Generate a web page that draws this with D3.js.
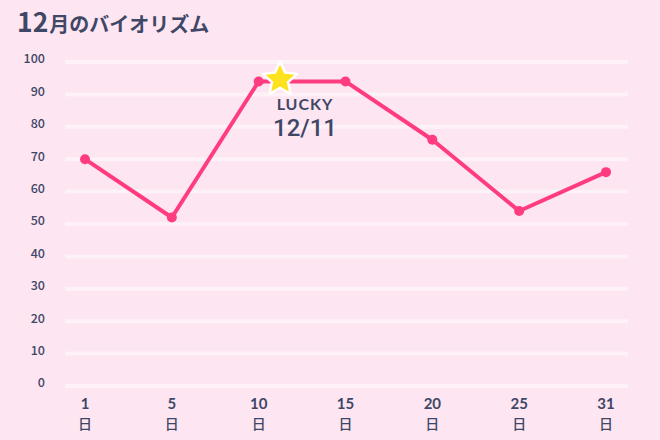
<!DOCTYPE html>
<meta charset="utf-8">
<style type="text/css">
  body { margin: 0; background: #fde5f1; }
  svg { display: block; font-family: "Noto Sans CJK JP", "Noto Sans", sans-serif; }
  .grid line { stroke: #fef1f7; stroke-width: 4; }
  .ytick { fill: #3f4766; font-size: 12.5px; font-weight: 500; }
  .xnum { fill: #3f4766; font-family: Lato, sans-serif; font-size: 15px; font-weight: 700; }
  .xday { fill: #3f4766; font-size: 14px; font-weight: 500; }
  .bio-line { stroke: #ff3c80; stroke-width: 4; fill: none; stroke-linejoin: round; }
  .bio-dot { fill: #ff3c80; }
</style>
<body>
<script src="https://d3js.org/d3.v7.min.js"></script>
<script>

// data
var days = ["1", "5", "10", "15", "20", "25", "31"];
var values = [70, 52, 94, 94, 76, 54, 66];
var yTicks = [0, 10, 20, 30, 40, 50, 60, 70, 80, 90, 100];
var luckyDay = 11;          // day of the star, sits between 10 and 15
var luckyValue = 94;
var luckyLabel = "12/11";

var w = 660, h = 440;

var svg = d3.select("body").append("svg")
  .attr("width", w)
  .attr("height", h);

svg.append("rect").attr("width", w).attr("height", h).attr("fill", "#fde5f1");

var xscale = d3.scalePoint()
  .domain(days)
  .range([85, 606]);

var yscale = d3.scaleLinear()
  .domain([0, 100])
  .range([386, 62]);

// title
var title = svg.append("text")
  .attr("x", 17)
  .attr("y", 32)
  .attr("fill", "#3f4766")
  .attr("font-weight", 700);
title.append("tspan").attr("font-size", 26.5).text("12");
title.append("tspan").attr("font-size", 20).attr("dx", 1).text("月のバイオリズム");

// horizontal grid
svg.append("g").attr("class", "grid")
  .selectAll("line")
  .data(yTicks)
  .enter().append("line")
  .attr("x1", 65).attr("x2", 628)
  .attr("y1", function(d) { return yscale(d); })
  .attr("y2", function(d) { return yscale(d); });

svg.append("g")
  .selectAll("text")
  .data(yTicks)
  .enter().append("text")
  .attr("class", "ytick")
  .attr("x", 45)
  .attr("y", function(d) { return yscale(d) - 2; })
  .attr("text-anchor", "end")
  .attr("dominant-baseline", "middle")
  .text(function(d) { return d; });

// x labels: number over 日
var xt = svg.append("g")
  .selectAll("g")
  .data(days)
  .enter().append("g")
  .attr("transform", function(d) { return "translate(" + xscale(d) + ",0)"; });

xt.append("text")
  .attr("class", "xnum")
  .attr("y", 409)
  .attr("text-anchor", "middle")
  .text(function(d) { return d; });

xt.append("text")
  .attr("class", "xday")
  .attr("y", 428.5)
  .attr("text-anchor", "middle")
  .text("日");

// line + dots
var pts = days.map(function(d, i) { return {day: d, val: values[i]}; });

var lineGenerator = d3.line()
  .x(function(d) { return xscale(d.day); })
  .y(function(d) { return yscale(d.val); });

svg.append("path")
  .attr("class", "bio-line")
  .attr("d", lineGenerator(pts));

svg.selectAll(".bio-dot")
  .data(pts)
  .enter().append("circle")
  .attr("class", "bio-dot")
  .attr("cx", function(d) { return xscale(d.day); })
  .attr("cy", function(d) { return yscale(d.val); })
  .attr("r", 5);

// lucky star, placed between the 10 and 15 ticks
var x10 = xscale("10"), x15 = xscale("15");
var sx = x10 + (x15 - x10) * (luckyDay - 10) / 5 + 4;
var sy = yscale(luckyValue);

var starPts = d3.range(10).map(function(i) {
  return [i * Math.PI / 5, i % 2 ? 8.5 : 18];
});
var star = d3.lineRadial().curve(d3.curveLinearClosed);

svg.append("path")
  .attr("d", star(starPts))
  .attr("transform", "translate(" + sx + "," + (sy - 2) + ")")
  .attr("fill", "#ffe21f")
  .attr("stroke", "#fff")
  .attr("stroke-width", 2.5)
  .attr("stroke-linejoin", "round");

svg.append("text")
  .attr("x", sx + 25)
  .attr("y", sy + 29)
  .attr("text-anchor", "middle")
  .attr("fill", "#3f4766")
  .attr("font-family", "Lato, sans-serif")
  .attr("font-size", 16)
  .attr("font-weight", 700)
  .attr("letter-spacing", 1)
  .text("LUCKY");

svg.append("text")
  .attr("x", sx + 25)
  .attr("y", sy + 55)
  .attr("text-anchor", "middle")
  .attr("fill", "#3f4766")
  .attr("font-family", "Roboto, sans-serif")
  .attr("font-size", 24)
  .attr("font-weight", 500)
  .text(luckyLabel);

</script>
</body>
